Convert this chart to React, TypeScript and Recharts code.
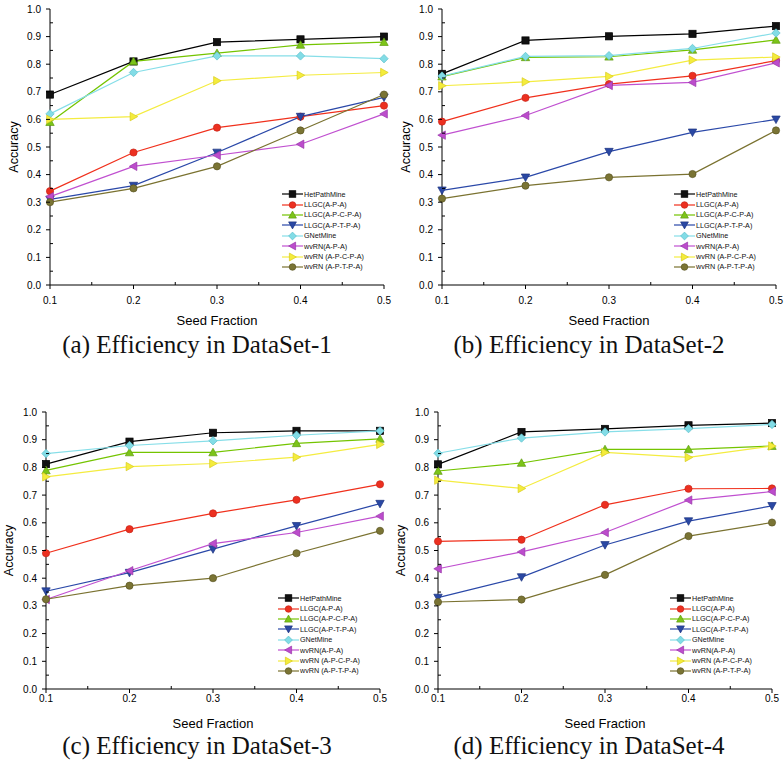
import React from "react";
import { Legend, Line, LineChart, XAxis, YAxis } from "recharts";

const SEED_FRACTIONS = [0.1, 0.2, 0.3, 0.4, 0.5];
const X_MAJOR = [0.1, 0.2, 0.3, 0.4, 0.5];
const X_MINOR = [0.15, 0.25, 0.35, 0.45];
const Y_MAJOR = [0, 0.1, 0.2, 0.3, 0.4, 0.5, 0.6, 0.7, 0.8, 0.9, 1.0];
const Y_MINOR = [0.05, 0.15, 0.25, 0.35, 0.45, 0.55, 0.65, 0.75, 0.85, 0.95];

const SERIES_NAMES = [
  "HetPathMine",
  "LLGC(A-P-A)",
  "LLGC(A-P-C-P-A)",
  "LLGC(A-P-T-P-A)",
  "GNetMine",
  "wvRN(A-P-A)",
  "wvRN (A-P-C-P-A)",
  "wvRN (A-P-T-P-A)",
];

// values per series, in SERIES_NAMES order
const DATASET_1 = [
  [0.69, 0.81, 0.88, 0.89, 0.9],
  [0.34, 0.48, 0.57, 0.61, 0.65],
  [0.59, 0.81, 0.84, 0.87, 0.88],
  [0.31, 0.36, 0.48, 0.61, 0.68],
  [0.62, 0.77, 0.83, 0.83, 0.82],
  [0.32, 0.43, 0.47, 0.51, 0.62],
  [0.6, 0.61, 0.74, 0.76, 0.77],
  [0.3, 0.35, 0.43, 0.56, 0.69],
];

const DATASET_2 = [
  [0.765, 0.886, 0.901, 0.91, 0.938],
  [0.592, 0.678, 0.728, 0.758, 0.813],
  [0.755, 0.825, 0.827, 0.852, 0.888],
  [0.343, 0.39, 0.483, 0.553, 0.6],
  [0.757, 0.828, 0.831, 0.857, 0.913],
  [0.543, 0.614, 0.723, 0.734, 0.805],
  [0.722, 0.736, 0.756, 0.815, 0.826],
  [0.313, 0.36, 0.39, 0.402, 0.56],
];

const DATASET_3 = [
  [0.812, 0.893, 0.925, 0.932, 0.932],
  [0.49, 0.577, 0.634, 0.683, 0.739],
  [0.789, 0.854, 0.854, 0.887, 0.903],
  [0.353, 0.42, 0.505, 0.589, 0.669],
  [0.85, 0.879, 0.896, 0.916, 0.932],
  [0.323, 0.427, 0.525, 0.565, 0.624],
  [0.766, 0.803, 0.814, 0.837, 0.883],
  [0.324, 0.373, 0.4, 0.49, 0.571],
];

const DATASET_4 = [
  [0.811, 0.928, 0.939, 0.952, 0.96],
  [0.533, 0.539, 0.665, 0.723, 0.724],
  [0.787, 0.816, 0.865, 0.865, 0.877],
  [0.33, 0.404, 0.52, 0.606, 0.661],
  [0.851, 0.906, 0.928, 0.94, 0.955],
  [0.434, 0.495, 0.565, 0.682, 0.713],
  [0.754, 0.724, 0.854, 0.836, 0.877],
  [0.314, 0.323, 0.412, 0.552, 0.601],
];

const CAPTIONS = [
  "(a) Efficiency in DataSet-1",
  "(b) Efficiency in DataSet-2",
  "(c) Efficiency in DataSet-3",
  "(d) Efficiency in DataSet-4",
];

type Shape = "square" | "circle" | "up" | "down" | "diamond" | "left" | "right";

const STYLES: { line: string; fill: string; edge: string; shape: Shape }[] = [
  { line: "#000000", fill: "#111111", edge: "#000000", shape: "square" },
  { line: "#f0301c", fill: "#ec3020", edge: "#c82418", shape: "circle" },
  { line: "#74c400", fill: "#7cc418", edge: "#5e9c10", shape: "up" },
  { line: "#2a48a8", fill: "#2a48a4", edge: "#1c3480", shape: "down" },
  { line: "#86dee8", fill: "#82dce6", edge: "#5ec0cc", shape: "diamond" },
  { line: "#c050d0", fill: "#bc4ccc", edge: "#9a38aa", shape: "left" },
  { line: "#f4ec40", fill: "#f4ec3c", edge: "#d8cc20", shape: "right" },
  { line: "#7a7230", fill: "#7a7434", edge: "#5c5624", shape: "circle" },
];

const FONT = "'Liberation Sans', Arial, sans-serif";

function Marker({ cx, cy, shape, fill, edge, r = 3.6 }: any) {
  if (cx == null || cy == null) return null;
  const common = { fill, stroke: edge, strokeWidth: 0.7 };
  const t = r + 0.6;
  switch (shape) {
    case "square":
      return <rect x={cx - r} y={cy - r} width={2 * r} height={2 * r} {...common} />;
    case "circle":
      return <circle cx={cx} cy={cy} r={r} {...common} />;
    case "up":
      return <polygon points={`${cx},${cy - t} ${cx + t},${cy + t * 0.8} ${cx - t},${cy + t * 0.8}`} {...common} />;
    case "down":
      return <polygon points={`${cx},${cy + t} ${cx + t},${cy - t * 0.8} ${cx - t},${cy - t * 0.8}`} {...common} />;
    case "left":
      return <polygon points={`${cx - t},${cy} ${cx + t * 0.8},${cy - t} ${cx + t * 0.8},${cy + t}`} {...common} />;
    case "right":
      return <polygon points={`${cx + t},${cy} ${cx - t * 0.8},${cy - t} ${cx - t * 0.8},${cy + t}`} {...common} />;
    default:
      return <polygon points={`${cx},${cy - t} ${cx + t},${cy} ${cx},${cy + t} ${cx - t},${cy}`} {...common} />;
  }
}

const isMajor = (v: number) => Math.abs(v * 10 - Math.round(v * 10)) < 1e-6;

function BottomTick({ x, y, payload, gap }: any) {
  const major = isMajor(payload.value);
  return (
    <g>
      <line x1={x} x2={x} y1={y} y2={major ? y + 4 : y - 3} stroke="#000" />
      {major && (
        <text x={x} y={y + gap} textAnchor="middle" dominantBaseline="central" fontSize={10} fill="#000">
          {payload.value.toFixed(1)}
        </text>
      )}
    </g>
  );
}

function TopTick({ x, y, payload }: any) {
  const major = isMajor(payload.value);
  return <line x1={x} x2={x} y1={y} y2={y + (major ? 4 : 2.5)} stroke="#000" />;
}

function LeftTick({ x, y, payload }: any) {
  const major = isMajor(payload.value);
  return (
    <g>
      <line x1={x} x2={major ? x - 4 : x + 3} y1={y} y2={y} stroke="#000" />
      {major && (
        <text x={x - 9} y={y} textAnchor="end" dominantBaseline="central" fontSize={10} fill="#000">
          {payload.value.toFixed(1)}
        </text>
      )}
    </g>
  );
}

function RightTick({ x, y, payload }: any) {
  const major = isMajor(payload.value);
  return <line x1={x} x2={x - (major ? 4 : 2.5)} y1={y} y2={y} stroke="#000" />;
}

function LegendBox({ payload }: any) {
  const items = [...(payload || [])].sort(
    (a: any, b: any) => SERIES_NAMES.indexOf(a.value) - SERIES_NAMES.indexOf(b.value)
  );
  return (
    <div style={{ fontFamily: FONT, fontSize: 7.2, color: "#111" }}>
      {items.map((item: any) => {
        const st = STYLES[SERIES_NAMES.indexOf(item.value)];
        return (
          <div key={item.value} style={{ display: "flex", alignItems: "center", height: 10.4 }}>
            <svg width={21} height={10} style={{ display: "block" }}>
              <line x1={0} x2={21} y1={5} y2={5} stroke={st.line} strokeWidth={1.2} />
              <Marker cx={10.5} cy={5} shape={st.shape} fill={st.fill} edge={st.edge} r={3.3} />
            </svg>
            <span style={{ marginLeft: 1, whiteSpace: "nowrap" }}>{item.value}</span>
          </div>
        );
      })}
    </div>
  );
}

function Panel({
  values,
  caption,
  left,
  top,
  height,
  margin,
  tickGap,
  labelOffset,
  captionTop,
  accuracyOffset,
}: {
  values: number[][];
  caption: string;
  left: number;
  top: number;
  height: number;
  margin: { top: number; right: number; bottom: number; left: number };
  tickGap: number;
  labelOffset: number;
  captionTop: number;
  accuracyOffset: number;
}) {
  const width = 392;
  const rows = SEED_FRACTIONS.map((seed, i) => {
    const row: Record<string, number> = { seed };
    values.forEach((s, k) => {
      row[`s${k}`] = s[i];
    });
    return row;
  });
  const plotRight = width - margin.right;
  const plotBottom = height - 45;

  return (
    <div style={{ position: "absolute", left, top, width, height: 364 }}>
      <LineChart width={width} height={height} data={rows} margin={margin}>
        <XAxis
          dataKey="seed"
          type="number"
          domain={[0.1, 0.5]}
          ticks={[...X_MAJOR, ...X_MINOR]}
          interval={0}
          height={45}
          tickSize={0}
          tickMargin={0}
          tickLine={false}
          axisLine={{ stroke: "#000" }}
          tick={<BottomTick gap={tickGap} />}
          label={{
            value: "Seed Fraction",
            position: "insideBottom",
            offset: labelOffset,
            style: { fontSize: 13, fill: "#000", fontFamily: FONT },
          }}
        />
        <XAxis
          xAxisId="top"
          orientation="top"
          dataKey="seed"
          type="number"
          domain={[0.1, 0.5]}
          ticks={[...X_MAJOR, ...X_MINOR]}
          interval={0}
          height={0}
          tickSize={0}
          tickMargin={0}
          tickLine={false}
          axisLine={{ stroke: "#000" }}
          tick={<TopTick />}
        />
        <YAxis
          type="number"
          domain={[0, 1]}
          ticks={[...Y_MAJOR, ...Y_MINOR]}
          interval={0}
          width={40}
          tickSize={0}
          tickMargin={0}
          tickLine={false}
          axisLine={{ stroke: "#000" }}
          tick={<LeftTick />}
          label={{
            value: "Accuracy",
            angle: -90,
            position: "insideLeft",
            offset: accuracyOffset,
            style: { fontSize: 12.5, fill: "#000", textAnchor: "middle", fontFamily: FONT },
          }}
        />
        <YAxis
          yAxisId="right"
          orientation="right"
          type="number"
          domain={[0, 1]}
          ticks={[...Y_MAJOR, ...Y_MINOR]}
          interval={0}
          width={0}
          tickSize={0}
          tickMargin={0}
          tickLine={false}
          axisLine={{ stroke: "#000" }}
          tick={<RightTick />}
        />
        <Legend
          layout="vertical"
          align="center"
          verticalAlign="middle"
          content={<LegendBox />}
          wrapperStyle={{
            position: "absolute",
            left: plotRight - 102,
            top: plotBottom - 18 - 7 * 10.4 - 5.2,
            width: 110,
            height: 84,
          }}
        />
        {SERIES_NAMES.map((name, k) => {
          const st = STYLES[k];
          return (
            <Line
              key={name}
              name={name}
              dataKey={`s${k}`}
              type="linear"
              stroke={st.line}
              strokeWidth={1.2}
              isAnimationActive={false}
              activeDot={false}
              dot={(p: any) => (
                <Marker key={`${name}-${p.index}`} cx={p.cx} cy={p.cy} shape={st.shape} fill={st.fill} edge={st.edge} />
              )}
            />
          );
        })}
      </LineChart>
      <div
        style={{
          position: "absolute",
          left: 0,
          width: 394,
          top: captionTop,
          textAlign: "center",
          fontFamily: "'Liberation Serif', 'Times New Roman', serif",
          fontSize: 25,
          lineHeight: "22px",
          color: "#111",
        }}
      >
        {caption}
      </div>
    </div>
  );
}

export default function App() {
  const topMargin = { top: 9, right: 8, bottom: 0, left: 10 };
  const bottomMargin = { top: 12, right: 12, bottom: 0, left: 6 };
  return (
    <div style={{ position: "absolute", left: 0, top: 0, width: 784, height: 764, background: "#fff", fontFamily: FONT }}>
      <Panel values={DATASET_1} caption={CAPTIONS[0]} left={0} top={0} height={330} margin={topMargin}
        tickGap={15} labelOffset={5} captionTop={334} accuracyOffset={4} />
      <Panel values={DATASET_2} caption={CAPTIONS[1]} left={392} top={0} height={330} margin={topMargin}
        tickGap={15} labelOffset={5} captionTop={334} accuracyOffset={4} />
      <Panel values={DATASET_3} caption={CAPTIONS[2]} left={0} top={400} height={334} margin={bottomMargin}
        tickGap={9} labelOffset={6} captionTop={335} accuracyOffset={3} />
      <Panel values={DATASET_4} caption={CAPTIONS[3]} left={392} top={400} height={334} margin={bottomMargin}
        tickGap={9} labelOffset={6} captionTop={335} accuracyOffset={3} />
    </div>
  );
}
